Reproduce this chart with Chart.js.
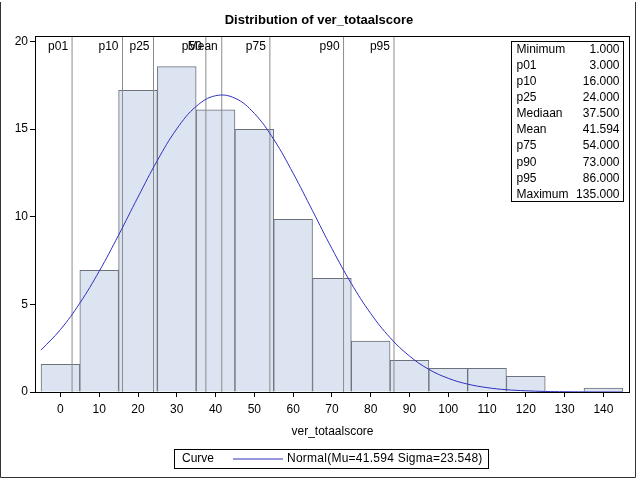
<!DOCTYPE html>
<html><head><meta charset="utf-8">
<script src="https://cdn.jsdelivr.net/npm/chart.js@4"></script>
<style>html,body{margin:0;padding:0;background:#fff}#wrap{width:640px;height:480px;position:relative}</style>
</head><body><div id="wrap"><canvas id="c" width="640" height="480"></canvas></div>
<script>
// ---- data ----
const binCenters = [0, 10, 20, 30, 40, 50, 60, 70, 80, 90, 100, 110, 120, 130, 140];
const binPercents = [1.58, 6.94, 17.21, 18.56, 16.10, 14.98, 9.85, 6.49, 2.91, 1.81, 1.35, 1.35, 0.90, 0, 0.23];
const curveX = [-5, 0, 5, 10, 15, 20, 25, 30, 35, 40, 45, 50, 55, 60, 65, 70, 75, 80, 85, 90, 95, 100, 105, 110, 115, 120, 125, 130, 135, 140, 145];
const curveY = [2.39, 3.56, 5.07, 6.89, 8.95, 11.12, 13.21, 15.01, 16.29, 16.90, 16.76, 15.89, 14.41, 12.48, 10.34, 8.18, 6.19, 4.48, 3.10, 2.05, 1.29, 0.78, 0.45, 0.25, 0.13, 0.07, 0.03, 0.015, 0.006, 0.003, 0.001];
const refNames = ['p01', 'p10', 'p25', 'p50', 'Mean', 'p75', 'p90', 'p95'];
const refValues = [3, 16, 24, 37.5, 41.594, 54, 73, 86];
const statNames = ['Minimum', 'p01', 'p10', 'p25', 'Mediaan', 'Mean', 'p75', 'p90', 'p95', 'Maximum'];
const statValues = [1, 3, 16, 24, 37.5, 41.594, 54, 73, 86, 135];
const xTicks = [0, 10, 20, 30, 40, 50, 60, 70, 80, 90, 100, 110, 120, 130, 140];
const yTicks = [0, 5, 10, 15, 20];
const titleText = 'Distribution of ver_totaalscore';
const xTitle = 'ver_totaalscore';
const legendHeader = 'Curve';
const legendLabel = 'Normal(Mu=41.594 Sigma=23.548)';

const X_MIN = -6.3, X_MAX = 146.6, Y_MIN = 0, Y_MAX = 20.25;
const FONT = '"Liberation Sans", Arial, sans-serif';

const refDatasets = refValues.map(v => ({
  type: 'line',
  data: [{x: v, y: Y_MIN}, {x: v, y: Y_MAX}],
  borderColor: '#8c8c8c', borderWidth: 1, pointRadius: 0, order: 2, tension: 0
}));

const decor = {
  id: 'decor',
  afterDraw(chart) {
    const {ctx, chartArea: a, scales: {x}} = chart;
    ctx.save();
    // plot frame
    ctx.strokeStyle = '#000'; ctx.lineWidth = 1;
    const L = Math.round(a.left), R = Math.round(a.right), T = Math.round(a.top), B = Math.round(a.bottom);
    ctx.strokeRect(L - 0.5, T - 0.5, R - L + 1, B - T + 1);
    // outer border
    ctx.beginPath();
    ctx.moveTo(0.5, 2); ctx.lineTo(0.5, 477.5); ctx.lineTo(635.5, 477.5); ctx.lineTo(635.5, 2);
    ctx.strokeStyle = '#333'; ctx.stroke();
    // title
    ctx.fillStyle = '#000';
    ctx.font = 'bold 13px ' + FONT; ctx.textAlign = 'center'; ctx.textBaseline = 'middle';
    ctx.fillText(titleText, 319, 20);
    // axis title
    ctx.font = '12px ' + FONT;
    ctx.fillText(xTitle, (a.left + a.right) / 2, 432);
    // reference labels
    ctx.textAlign = 'right';
    refNames.forEach((n, i) => {
      const px = x.getPixelForValue(refValues[i]);
      ctx.fillText(n, px - 4, a.top + 10);
    });
    // stats table
    const bw = 112, bh = 160;
    const bx = R - 6 - bw + 0.5, by = T + 4.5;
    ctx.fillStyle = '#fff'; ctx.fillRect(bx, by, bw, bh);
    ctx.strokeStyle = '#000'; ctx.strokeRect(bx, by, bw, bh);
    ctx.fillStyle = '#000';
    statNames.forEach((n, i) => {
      const yy = by + 8 + i * 16.1;
      ctx.textAlign = 'left'; ctx.fillText(n, bx + 5, yy);
      ctx.textAlign = 'right'; ctx.fillText(statValues[i].toFixed(3), bx + bw - 4, yy);
    });
    // legend
    const lx = 174.5, ly = 449.5, lw = 314, lh = 19;
    ctx.strokeRect(lx, ly, lw, lh);
    ctx.textAlign = 'left';
    ctx.fillText(legendHeader, 182, ly + lh / 2);
    ctx.beginPath(); ctx.moveTo(233, ly + lh / 2); ctx.lineTo(283, ly + lh / 2);
    ctx.strokeStyle = '#3030c0'; ctx.stroke();
    ctx.fillStyle = '#000';
    if ('letterSpacing' in ctx) ctx.letterSpacing = '0.25px';
    ctx.fillText(legendLabel, 287, ly + lh / 2);
    ctx.restore();
  }
};

new Chart(document.getElementById('c'), {
  type: 'scatter',
  data: {
    datasets: [
      {
        type: 'bar',
        data: binCenters.map((c, i) => ({x: c, y: binPercents[i]})),
        backgroundColor: '#dbe4f0', borderColor: '#6c717b', borderWidth: 1,
        barPercentage: 1, categoryPercentage: 1, order: 3
      },
      ...refDatasets,
      {
        type: 'line',
        data: curveX.map((c, i) => ({x: c, y: curveY[i]})),
        borderColor: '#3030c0', borderWidth: 1, pointRadius: 0, tension: 0.4, order: 1
      }
    ]
  },
  options: {
    responsive: false, animation: false,
    layout: {padding: {top: 37, right: 11, left: 0, bottom: 0}},
    plugins: {legend: {display: false}, tooltip: {enabled: false}, title: {display: false}},
    scales: {
      x: {
        type: 'linear', min: X_MIN, max: X_MAX, offset: false,
        afterBuildTicks: s => { s.ticks = xTicks.map(v => ({value: v})); },
        afterFit: s => { s.height = 88; },
        grid: {drawOnChartArea: false, drawTicks: true, tickLength: 5, color: '#000', offset: false},
        border: {display: false},
        ticks: {color: '#000', font: {size: 12, family: FONT}, padding: 5, maxRotation: 0, autoSkip: false}
      },
      y: {
        type: 'linear', min: Y_MIN, max: Y_MAX,
        afterBuildTicks: s => { s.ticks = yTicks.map(v => ({value: v})); },
        afterFit: s => { s.width = 36; },
        grid: {drawOnChartArea: false, drawTicks: true, tickLength: 6, color: '#000'},
        border: {display: false},
        ticks: {color: '#000', font: {size: 12, family: FONT}, padding: 2}
      }
    }
  },
  plugins: [decor]
});
</script>
</body></html>
